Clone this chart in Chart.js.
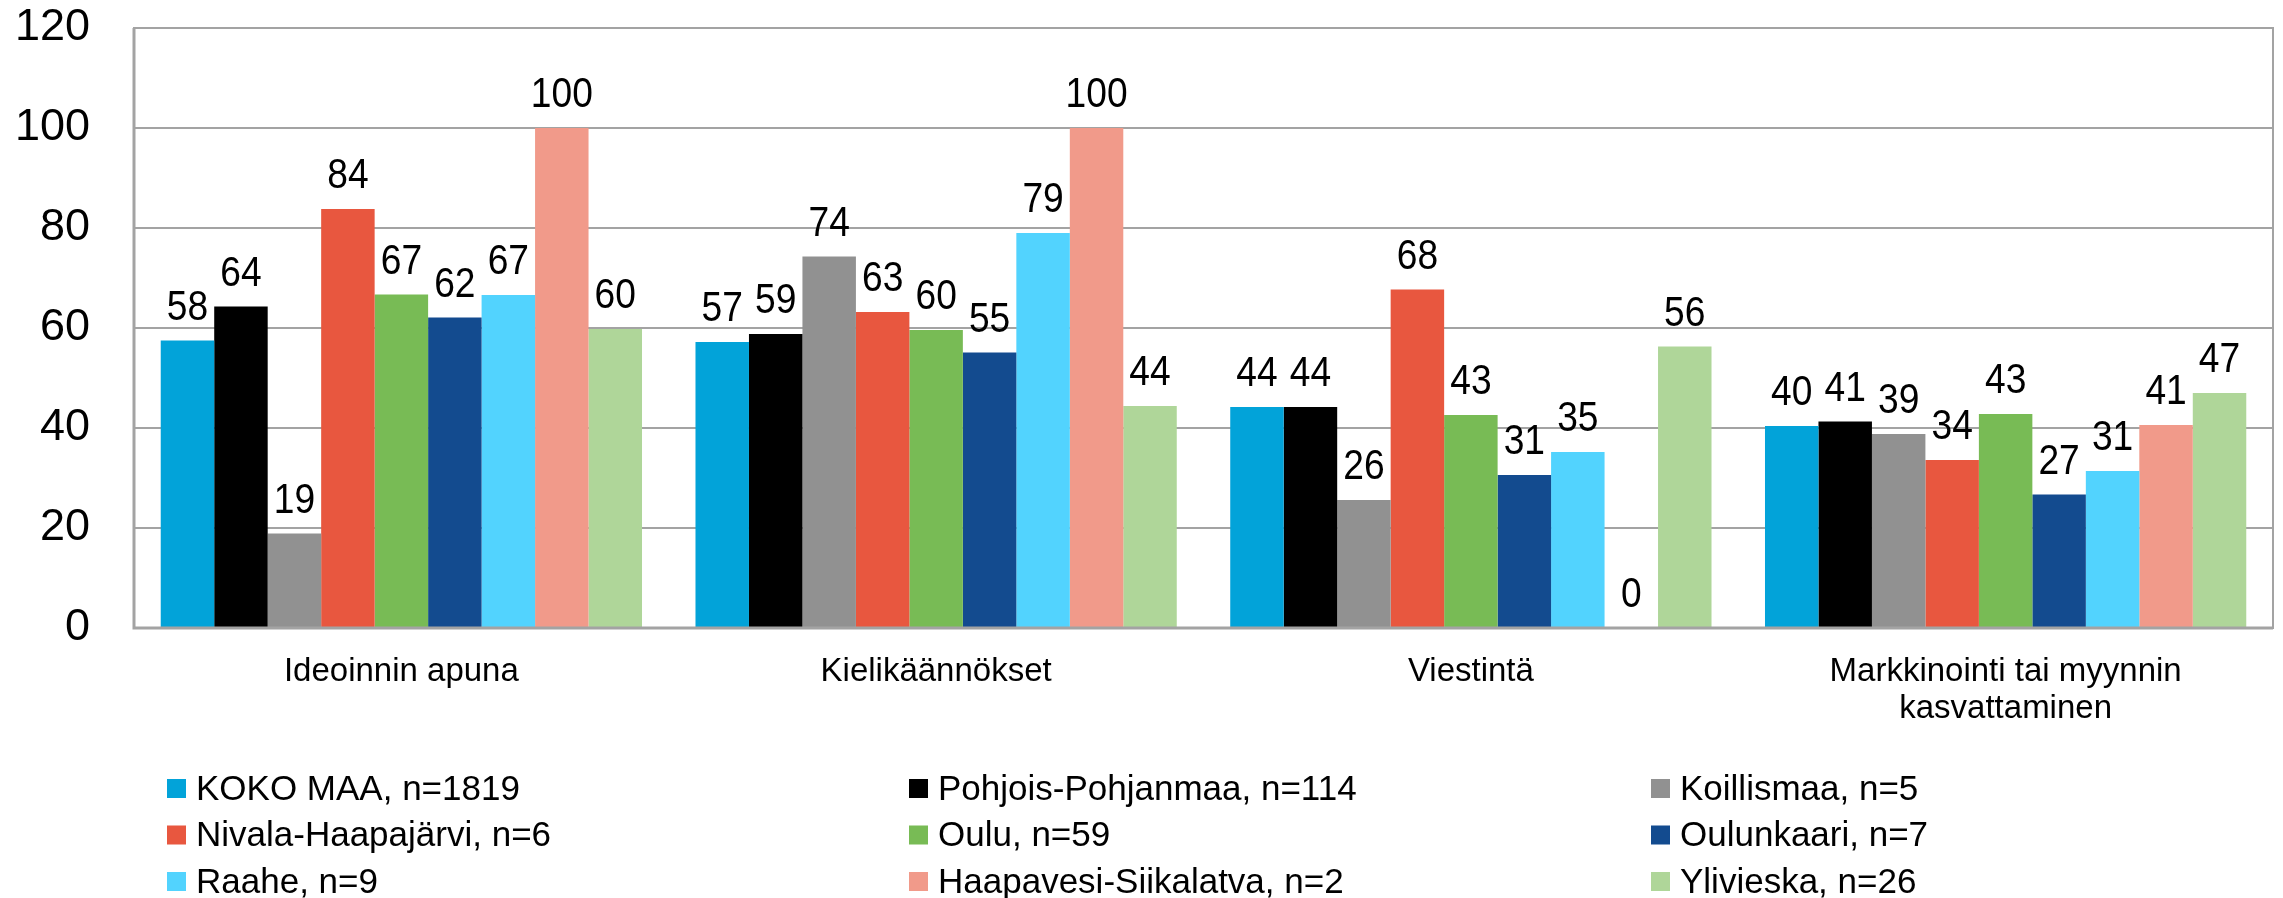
<!DOCTYPE html>
<html lang="fi">
<head>
<meta charset="utf-8">
<title>Tekoälyn käyttökohteet</title>
<script src="https://cdn.jsdelivr.net/npm/chart.js@4/dist/chart.umd.min.js"></script>
<style>
  html, body { margin: 0; padding: 0; background: #ffffff; }
  #kaavio { display: block; }
</style>
</head>
<body>
<canvas id="kaavio" width="2283" height="898"></canvas>
<script>
const kategoriat = [
  "Ideoinnin apuna",
  "Kielikäännökset",
  "Viestintä",
  ["Markkinointi tai myynnin", "kasvattaminen"],
];

const yTicks = [0, 20, 40, 60, 80, 100, 120];

// arvot luettu kuvasta (%)
const kokoMaa = [57.5, 57.2, 44.2, 40.4];
const pohjoisPohjanmaa = [64.3, 58.8, 44.2, 41.3];
const koillismaa = [18.9, 74.3, 25.6, 38.8];
const nivalaHaapajarvi = [83.8, 63.2, 67.7, 33.6];
const oulu = [66.7, 59.6, 42.6, 42.8];
const oulunkaari = [62.1, 55.1, 30.6, 26.7];
const raahe = [66.6, 79.0, 35.2, 31.4];
const haapavesiSiikalatva = [100, 100, 0, 40.6];
const ylivieska = [59.8, 44.4, 56.3, 47.0];

const sarjat = [
  { nimi: "KOKO MAA, n=1819", arvot: kokoMaa, vari: "#02a3d9" },
  { nimi: "Pohjois-Pohjanmaa, n=114", arvot: pohjoisPohjanmaa, vari: "#000000" },
  { nimi: "Koillismaa, n=5", arvot: koillismaa, vari: "#919191" },
  { nimi: "Nivala-Haapajärvi, n=6", arvot: nivalaHaapajarvi, vari: "#e8573f" },
  { nimi: "Oulu, n=59", arvot: oulu, vari: "#78bb55" },
  { nimi: "Oulunkaari, n=7", arvot: oulunkaari, vari: "#134b8f" },
  { nimi: "Raahe, n=9", arvot: raahe, vari: "#52d3fe" },
  { nimi: "Haapavesi-Siikalatva, n=2", arvot: haapavesiSiikalatva, vari: "#f19a8a" },
  { nimi: "Ylivieska, n=26", arvot: ylivieska, vari: "#afd699" },
];

const fontti = "'Liberation Sans', Arial, sans-serif";
const harmaa = "#a3a3a3";

// arvot pylväiden päälle (hieman kapeampi kirjasin kuin akselilla)
const arvoTekstit = {
  id: "arvoTekstit",
  afterDatasetsDraw(chart) {
    const c = chart.ctx;
    c.save();
    c.font = "42px " + fontti;
    c.fillStyle = "#000000";
    c.textAlign = "center";
    c.textBaseline = "alphabetic";
    chart.data.datasets.forEach((ds, i) => {
      const meta = chart.getDatasetMeta(i);
      meta.data.forEach((bar, j) => {
        c.save();
        c.translate(bar.x, bar.y - 21);
        c.scale(0.885, 1);
        c.fillText(String(Math.round(ds.data[j])), 0, 0);
        c.restore();
      });
    });
    c.restore();
  },
};

// kehys kuvaajan ympärille
const kehys = {
  id: "kehys",
  afterDatasetsDraw(chart) {
    const a = chart.chartArea;
    const c = chart.ctx;
    c.save();
    c.strokeStyle = harmaa;
    c.lineWidth = 2;
    c.strokeRect(a.left, a.top, a.right - a.left, a.bottom - a.top);
    c.lineWidth = 3;
    c.beginPath();
    c.moveTo(a.left, a.top);
    c.lineTo(a.left, a.bottom);
    c.lineTo(a.right, a.bottom);
    c.stroke();
    c.restore();
  },
};

// selite kolmeen sarakkeeseen
const selite = {
  id: "selite",
  afterDraw(chart) {
    const c = chart.ctx;
    c.save();
    c.font = "35px " + fontti;
    c.textBaseline = "middle";
    c.textAlign = "left";
    chart.data.datasets.forEach((ds, i) => {
      const x = 167 + (i % 3) * 742;
      const y = 779 + Math.floor(i / 3) * 46.5;
      c.fillStyle = ds.backgroundColor;
      c.fillRect(x, y, 19, 19);
      c.fillStyle = "#000000";
      c.fillText(ds.label, x + 29, y + 11);
    });
    c.restore();
  },
};

const ctx = document.getElementById("kaavio").getContext("2d");

new Chart(ctx, {
  type: "bar",
  data: {
    labels: kategoriat,
    datasets: sarjat.map((s) => ({
      label: s.nimi,
      data: s.arvot,
      backgroundColor: s.vari,
      borderWidth: 0,
      categoryPercentage: 0.9,
      barPercentage: 1.0,
    })),
  },
  options: {
    responsive: false,
    animation: false,
    layout: { padding: { top: 28, right: 10, left: 0, bottom: 0 } },
    plugins: {
      legend: { display: false },
      tooltip: { enabled: false },
    },
    scales: {
      x: {
        grid: { display: false, drawTicks: false },
        border: { display: false },
        ticks: {
          color: "#000000",
          font: { family: fontti, size: 33, lineHeight: 1.12 },
          padding: 25,
          maxRotation: 0,
          autoSkip: false,
        },
        afterFit(scale) {
          scale.height = 270;
          scale.paddingLeft = 0;
          scale.paddingRight = 0;
        },
      },
      y: {
        min: 0,
        max: 120,
        afterBuildTicks(scale) {
          scale.ticks = yTicks.map((v) => ({ value: v }));
        },
        grid: { color: harmaa, lineWidth: 2, drawTicks: false },
        border: { display: false },
        ticks: {
          color: "#000000",
          font: { family: fontti, size: 45 },
          padding: 44,
        },
        afterFit(scale) {
          scale.width = 134;
          scale.paddingTop = 0;
          scale.paddingBottom = 0;
        },
      },
    },
  },
  plugins: [arvoTekstit, kehys, selite],
});
</script>
</body>
</html>
